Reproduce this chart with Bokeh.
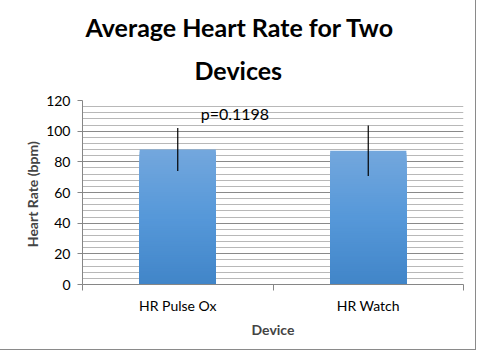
from bokeh.plotting import figure
from bokeh.models import Range1d, FixedTicker, SingleIntervalTicker, Label, Title
from bokeh.embed import file_html
from bokeh.resources import INLINE

categories = ["HR Pulse Ox", "HR Watch"]
means = [88.0, 87.2]
errors = [14.0, 16.5]
p_value_text = "p=0.1198"
title_line1 = "Average Heart Rate for Two"
title_line2 = "Devices"

FONT = "Lato"

p = figure(width=475, height=349, x_range=Range1d(0, 2), y_range=Range1d(0, 120),
           output_backend="svg", toolbar_location=None,
           min_border_left=82, min_border_right=12, min_border_top=0, min_border_bottom=65)
p.outline_line_color = None
p.background_fill_color = "white"
p.border_fill_color = "white"

# spacer (outermost)
p.title.text = " "
p.title.text_font_size = "1px"
p.title.standoff = 6

p.add_layout(Title(text=title_line2, align="left", offset=112, standoff=27, vertical_align="top",
                   text_font=FONT, text_font_size="25px", text_font_style="bold",
                   text_color="black"), "above")
p.add_layout(Title(text=title_line1, align="left", offset=3, standoff=0, text_font=FONT,
                   text_font_size="25px", text_font_style="bold", text_color="black"), "above")

# gradient bars drawn as overlapping quads (top color first)
top_c = (115, 167, 221)
mid_c = (86, 152, 217)
bot_c = (65, 133, 200)
def grad(t):
    if t >= 0.5:
        a, b, s = mid_c, top_c, (t - 0.5) / 0.5
    else:
        a, b, s = bot_c, mid_c, t / 0.5
    return "#%02x%02x%02x" % tuple(int(round(a[k] + (b[k] - a[k]) * s)) for k in range(3))

N = 60
centers = [i + 0.5 for i in range(len(categories))]
lefts, rights, tops, colors = [], [], [], []
for c, v in zip(centers, means):
    for i in range(N, 0, -1):
        lefts.append(c - 0.2)
        rights.append(c + 0.2)
        tops.append(v * i / N)
        colors.append(grad((i - 0.5) / N))
p.quad(left=lefts, right=rights, bottom=0, top=tops, fill_color=colors, line_color=None)

# error bars
p.segment(x0=centers, x1=centers,
          y0=[m - e for m, e in zip(means, errors)],
          y1=[m + e for m, e in zip(means, errors)],
          line_color="black", line_width=1.2)

p.add_layout(Label(x=0.80, y=111.5, text=p_value_text, text_font=FONT, text_font_size="16px",
                   text_align="center", text_baseline="middle", text_color="black"))

# axes
xa = p.xaxis[0]
xa.ticker = FixedTicker(ticks=centers, minor_ticks=[0, 1, 2])
xa.major_label_overrides = {c: name for c, name in zip(centers, categories)}
xa.major_tick_out = 0
xa.major_tick_in = 0
xa.minor_tick_out = 6
xa.minor_tick_in = 0
xa.minor_tick_line_color = "#868686"
xa.axis_line_color = "#868686"
xa.major_label_standoff = 6
xa.major_label_text_font = FONT
xa.major_label_text_font_size = "14px"
xa.major_label_text_color = "black"
xa.axis_label = "Device"
xa.axis_label_text_font = FONT
xa.axis_label_text_font_size = "14px"
xa.axis_label_text_font_style = "bold"
xa.axis_label_standoff = 4

ya = p.yaxis[0]
ya.ticker = SingleIntervalTicker(interval=20, num_minor_ticks=5)
ya.major_tick_out = 5
ya.major_tick_in = 0
ya.minor_tick_out = 0
ya.minor_tick_in = 0
ya.major_tick_line_color = "#868686"
ya.axis_line_color = "#868686"
ya.major_label_standoff = 7
ya.major_label_text_font = FONT
ya.major_label_text_font_size = "14px"
ya.major_label_text_color = "black"
ya.axis_label = "Heart Rate  (bpm)"
ya.axis_label_text_font = FONT
ya.axis_label_text_font_size = "14px"
ya.axis_label_text_font_style = "bold"
ya.axis_label_standoff = 2

p.xgrid.grid_line_color = None
p.ygrid.grid_line_color = "#8a8a8a"
p.ygrid.minor_grid_line_color = "#b8b8b8"

p.styles = {"outline": "1px solid #8a8a8a"}

open("out.html", "w").write(file_html(p, INLINE))
